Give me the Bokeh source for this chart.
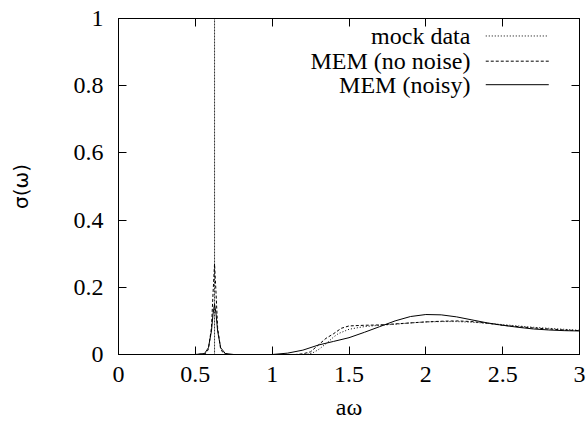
from bokeh.plotting import figure
from bokeh.models import LinearAxis, FixedTicker, Range1d, Label
from bokeh.embed import file_html
from bokeh.resources import INLINE

# ---------------- data ----------------
x_ticks = [0, 0.5, 1, 1.5, 2, 2.5, 3]
x_tick_labels = ["0", "0.5", "1", "1.5", "2", "2.5", "3"]
y_ticks = [0, 0.2, 0.4, 0.6, 0.8, 1]
y_tick_labels = ["0", "0.2", "0.4", "0.6", "0.8", "1"]

mock_x = [0, 0.625, 0.625, 0.625, 1.22, 1.26, 1.3, 1.35, 1.4, 1.43, 1.5, 1.56, 1.6,
          1.7, 1.8, 1.9, 2.0, 2.1, 2.2, 2.3, 2.4, 2.5, 2.6, 2.7, 2.8, 2.9, 3.0]
mock_y = [0, 0, 1.0, 0, 0, 0.004, 0.014, 0.032, 0.052, 0.062, 0.075, 0.08, 0.083,
          0.087, 0.09, 0.094, 0.097, 0.098, 0.098, 0.096, 0.093, 0.089, 0.085, 0.081,
          0.078, 0.075, 0.072]

mem_x = [0, 0.5, 0.565, 0.585, 0.605, 0.615, 0.625, 0.635, 0.645, 0.665, 0.685,
         0.72, 1.0, 1.15, 1.2, 1.25, 1.3, 1.35, 1.4, 1.45, 1.5, 1.6, 1.7, 1.8, 1.9,
         2.0, 2.1, 2.2, 2.3, 2.4, 2.5, 2.6, 2.7, 2.8, 2.9, 3.0]
mem_y = [0, 0, 0.002, 0.015, 0.08, 0.18, 0.27, 0.18, 0.08, 0.015, 0.003, 0, 0,
         0, 0.002, 0.008, 0.028, 0.048, 0.062, 0.078, 0.085, 0.087, 0.088, 0.091,
         0.094, 0.097, 0.099, 0.1, 0.098, 0.093, 0.087, 0.083, 0.079, 0.076, 0.073,
         0.071]

noisy_x = [0, 0.5, 0.56, 0.585, 0.605, 0.615, 0.625, 0.635, 0.645, 0.665, 0.695,
           0.75, 1.0, 1.1, 1.2, 1.3, 1.4, 1.5, 1.6, 1.7, 1.8, 1.9, 2.0, 2.1, 2.2, 2.3,
           2.4, 2.5, 2.6, 2.7, 2.8, 2.9, 3.0]
noisy_y = [0, 0, 0.003, 0.02, 0.07, 0.12, 0.15, 0.12, 0.07, 0.02, 0.003, 0, 0,
           0.004, 0.013, 0.028, 0.039, 0.05, 0.066, 0.083, 0.1, 0.113, 0.119, 0.118,
           0.112, 0.103, 0.094, 0.087, 0.081, 0.076, 0.073, 0.071, 0.07]

series_names = ["mock data", "MEM (no noise)", "MEM (noisy)"]
series_dash = ["1 2", "3 2", "solid"]
x_title = "aω"
y_title = "σ(ω)"

# ---------------- figure ----------------
FONT = "Liberation Serif"
FS = "24px"

p = figure(width=588, height=425, output_backend="svg", toolbar_location=None,
           x_range=Range1d(0, 3), y_range=Range1d(0, 1),
           min_border_left=118, min_border_right=9, min_border_top=18,
           min_border_bottom=71, x_axis_label=x_title, y_axis_label=y_title)
p.grid.visible = False
p.outline_line_color = "black"
p.outline_line_width = 1
p.background_fill_color = "white"
p.border_fill_color = "white"

def style_axis(ax, ticks, labels, show_labels=True):
    ax.ticker = FixedTicker(ticks=ticks)
    ax.major_tick_in = 8
    ax.major_tick_out = 0
    ax.minor_tick_line_color = None
    ax.axis_line_color = "black"
    ax.major_tick_line_color = "black"
    ax.major_label_text_font = FONT
    ax.major_label_text_color = "black"
    if show_labels:
        ax.major_label_overrides = {t: l for t, l in zip(ticks, labels)}
        ax.major_label_text_font_size = FS
    else:
        ax.major_label_overrides = {t: "" for t in ticks}
        ax.major_label_text_font_size = "1px"
        ax.major_label_standoff = 0

xa = p.xaxis[0]
style_axis(xa, x_ticks, x_tick_labels)
xa.major_label_standoff = 12
xa.axis_label_text_font = FONT
xa.axis_label_text_font_size = FS
xa.axis_label_text_font_style = "normal"
xa.axis_label_text_color = "black"
xa.axis_label_standoff = 9

ya = p.yaxis[0]
style_axis(ya, y_ticks, y_tick_labels)
ya.major_label_standoff = 15
ya.axis_label_text_font = "DejaVu Sans"
ya.axis_label_text_font_size = "20px"
ya.axis_label_text_font_style = "normal"
ya.axis_label_text_color = "black"
ya.axis_label_standoff = 38

top = LinearAxis()
style_axis(top, x_ticks, x_tick_labels, show_labels=False)
p.add_layout(top, "above")
right = LinearAxis()
style_axis(right, y_ticks, y_tick_labels, show_labels=False)
p.add_layout(right, "right")

p.line(mock_x, mock_y, line_color="black", line_width=1, line_dash=series_dash[0])
p.line(mem_x, mem_y, line_color="black", line_width=1, line_dash=series_dash[1])
p.line(noisy_x, noisy_y, line_color="black", line_width=1, line_dash=series_dash[2])

# ---------------- legend (gnuplot style: text right, sample on the right) ----
leg_text_x = 2.29
leg_x0, leg_x1 = 2.39, 2.80
leg_rows = [0.948, 0.873, 0.803]
for name, dash, yy in zip(series_names, series_dash, leg_rows):
    p.add_layout(Label(x=leg_text_x, y=yy, text=name, text_align="right",
                       text_baseline="middle", text_font=FONT, text_font_size=FS,
                       text_color="black"))
    p.segment(x0=[leg_x0], y0=[yy], x1=[leg_x1], y1=[yy], line_color="black",
              line_width=1, line_dash=dash)

open("out.html", "w").write(file_html(p, INLINE))
